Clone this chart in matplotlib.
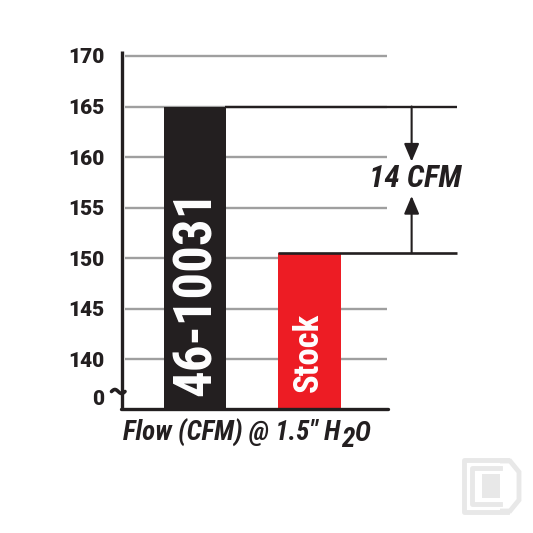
import matplotlib
matplotlib.use('Agg')
import matplotlib.pyplot as plt
from matplotlib.lines import Line2D
from matplotlib.patches import Polygon
import numpy as np

# ---- data ----
categories = ['46-10031', 'Stock']
flow_values = [165.0, 150.5]
bar_colors = ['#231f20', '#ed1c24']
tick_values = [170, 165, 160, 155, 150, 145, 140, 136.2]
tick_labels = ['170', '165', '160', '155', '150', '145', '140', '0']
diff_label = '14 CFM'

W = H = 533
fig = plt.figure(figsize=(5.33, 5.33), dpi=100)
fig.patch.set_facecolor('white')

L_px, R_px, B_px, T_px = 122.5, 470.0, 409.0, 51.0
ax = fig.add_axes([L_px / W, (H - B_px) / H, (R_px - L_px) / W, (B_px - T_px) / H])
ax.set_xlim(-0.632, 2.398)
ax.set_ylim(135.08, 170.49)
ax.patch.set_alpha(0)
for s in ax.spines.values():
    s.set_visible(False)

x = np.arange(len(categories))

# gray grid lines
ax.hlines([170, 165, 160, 155, 145, 140], -0.61, 1.671, color='#9f9f9f', lw=1.7, zorder=1)
ax.hlines([150], -0.61, x[1] - 0.27, color='#9f9f9f', lw=1.7, zorder=1)

bars = ax.bar(x, flow_values, width=[0.535, 0.547], color=bar_colors, zorder=2, bottom=0)

# reference lines at bar tops
ax.hlines(flow_values[0], x[0] + 0.26, 2.287, color='#231f20', lw=1.7, zorder=3)
ax.hlines(flow_values[1], x[1] - 0.273, 2.287, color='#231f20', lw=1.9, zorder=3)

# arrows
ax_x = 1.889
arrow_kw = dict(arrowstyle='-|>,head_length=0.9,head_width=0.38', color='#231f20', lw=1.5,
                shrinkA=0, shrinkB=0, mutation_scale=12)
ax.annotate('', xy=(ax_x, 159.55), xytext=(ax_x, flow_values[0]), arrowprops=arrow_kw, zorder=4)
ax.annotate('', xy=(ax_x, 156.15), xytext=(ax_x, flow_values[1]), arrowprops=arrow_kw, zorder=4)
ax.text(1.922, 157.9, diff_label, ha='center', va='center', fontsize=22.5,
        family='Roboto Condensed', weight=900, style='italic', color='#231f20')

# bar labels
ax.text(x[0] + 0.013, 146.6, categories[0], rotation=90, ha='center', va='center', color='white',
        fontsize=38, family='Roboto Condensed', weight=800, zorder=5)
ax.text(x[1] - 0.01, 140.67, categories[1], rotation=90, ha='center', va='center', color='white',
        fontsize=25, family='Roboto Condensed', weight=800, zorder=5)

# y ticks
ax.set_yticks(tick_values)
ax.set_yticklabels(tick_labels, family='Roboto', weight=900, fontsize=15, color='#231f20')
ax.tick_params(axis='y', length=0, pad=13)
ax.set_xticks([])

# axis lines
ax.plot([0, 0], [0, 1], transform=ax.transAxes, color='#231f20', lw=2.4, clip_on=False,
        solid_capstyle='butt', zorder=6)
bx1 = (388 - L_px) / (R_px - L_px)
ax.plot([-0.004, bx1], [0, 0], transform=ax.transAxes, color='#231f20', lw=2.4, clip_on=False,
        solid_capstyle='round', zorder=6)

# break mark (tilde) on the y axis
t = np.linspace(0, 1, 30)
bx = 111.5 + 13.5 * t
by = 391.5 - 2.0 * np.sin(2 * np.pi * t)
fig.add_artist(Line2D(bx / W, (H - by) / H, color='#231f20', lw=2.6, solid_capstyle='round'))

# x label with subscript 2
fk = dict(family='Roboto Condensed', weight=900, style='italic', fontsize=19.5, color='#231f20')
y0 = (H - 441) / H
t1 = fig.text(123 / W, y0, 'Flow (CFM) @ 1.5" H', ha='left', va='baseline', **fk)
fig.canvas.draw()
r = fig.canvas.get_renderer()
e1 = t1.get_window_extent(r)
t2 = fig.text(e1.x1 / W + 0.5 / W, y0 - 6 / H, '2', ha='left', va='baseline', **fk)
e2 = t2.get_window_extent(r)
t3 = fig.text(e2.x1 / W + 0.5 / W, y0, 'O', ha='left', va='baseline', **fk)

# faint logo watermark (bottom right)
lg = '#e8e8e8'
def px(pts):
    return [(a / W, (H - b) / H) for a, b in pts]
for pts in ([(507, 460), (464, 460), (464, 512), (507, 512)],
            [(500, 468), (472, 468), (472, 504), (500, 504)]):
    p = np.array(px(pts))
    fig.add_artist(Line2D(p[:, 0], p[:, 1], color=lg, lw=3.5))
oct_pts = px([(500, 461), (510, 461), (519, 472), (519, 500), (510, 511), (500, 511)])
fig.add_artist(Polygon(oct_pts, closed=False, fill=False, edgecolor=lg, lw=3.5))
fig.add_artist(Polygon(px([(482, 474), (500, 474), (500, 498), (482, 498)]), closed=True,
                       facecolor=lg, edgecolor='none'))

fig.savefig('out.png', dpi=100, facecolor='white')
